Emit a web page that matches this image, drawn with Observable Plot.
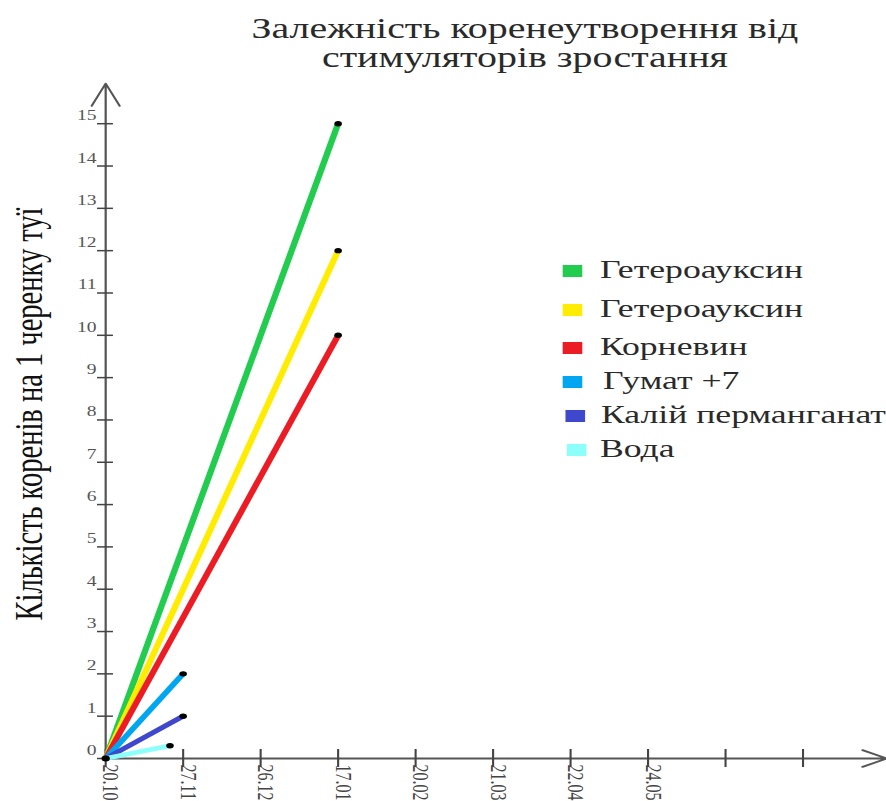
<!DOCTYPE html>
<html>
<head>
<meta charset="utf-8">
<script src="https://cdn.jsdelivr.net/npm/d3@7"></script>
<script src="https://cdn.jsdelivr.net/npm/@observablehq/plot@0.6"></script>
<style>
  html, body { margin: 0; padding: 0; background: #fff; overflow: hidden; }
  #wrap { position: relative; width: 633px; height: 801px; transform: scaleX(1.3997); transform-origin: 0 0; font-family: "Liberation Serif", "DejaVu Serif", serif; }
  #title { position: absolute; left: 375px; top: 14px; transform: translateX(-50%); text-align: center; font-size: 28.5px; line-height: 29px; color: #2a2a2a; white-space: nowrap; }
  #ylabel { position: absolute; left: 21.4px; top: 414px; transform: translate(-50%, -50%) rotate(-90deg); font-size: 28.5px; color: #111; white-space: nowrap; }
  #legend { position: absolute; left: 0; top: 0; }
  .item { position: absolute; left: 402px; height: 0; white-space: nowrap; }
  .sw { position: absolute; left: 0; top: -6px; width: 14px; height: 12px; }
  .lab { position: absolute; left: 26.6px; top: -16px; font-size: 25.5px; line-height: 30px; color: #2a2a2a; }
  #chart { position: absolute; left: 0; top: 0; }
</style>
</head>
<body>
<div id="wrap">
  <div id="chart"></div>
  <div id="title">Залежність коренеутворення від<br>стимуляторів зростання</div>
  <div id="ylabel">Кількість коренів на 1 черенку туї</div>
  <div id="legend"></div>
</div>
<script>
// ---- data ----
const xLabels = ["20.10", "27.11", "26.12", "17.01", "20.02", "21.03", "22.04", "24.05", "", ""];
const yTicks = [0, 1, 2, 3, 4, 5, 6, 7, 8, 9, 10, 11, 12, 13, 14, 15];
const seriesNames = ["Гетероауксин", "Гетероауксин", "Корневин", "Гумат +7", "Калій перманганат", "Вода"];
const seriesColors = ["#22cc4f", "#ffec00", "#ec1c24", "#00a6f0", "#3f48cc", "#8cfffb"];
const startX = [0, 0, 0, 0, 0, 0];
const startY = [0, 0, 0, 0, 0, 0];
const endX = [3, 3, 3, 1, 1, 0.83];
const endY = [15, 12, 10, 2, 1, 0.3];
const legendY = [271, 310, 348, 382, 416, 450];
const legendDx = [0, 0, 0, 0, 1.5, 3];
const labelDx = [0, 0, 0, 2.2, 0.8, 0];

// ---- build tables ----
const pts = [];
seriesNames.forEach((n, i) => {
  pts.push({ s: i, x: startX[i], y: startY[i] });
  pts.push({ s: i, x: endX[i], y: endY[i] });
});
const ends = seriesNames.map((n, i) => ({ s: i, x: endX[i], y: endY[i] }));
const xTickData = xLabels.map((l, i) => ({ i, l }));

const xMax = 10.08, yMax = 15.95;

const chart = Plot.plot({
  width: 633,
  height: 801,
  marginLeft: 75,
  marginRight: 0,
  marginTop: 83,
  marginBottom: 43,
  x: { domain: [0, xMax], axis: null },
  y: { domain: [0, yMax], axis: null },
  marks: [
    Plot.arrow([0], { x1: 0, y1: 0, x2: xMax, y2: 0, stroke: "#555", strokeWidth: 1.8, headLength: 16, headAngle: 52, bend: 0 }),
    Plot.arrow([0], { x1: 0, y1: 0, x2: 0, y2: yMax, stroke: "#555", strokeWidth: 1.6, headLength: 23, headAngle: 48, bend: 0 }),
    Plot.ruleX(xTickData, { x: "i", y1: 0, y2: 0, insetTop: -9, insetBottom: -9, stroke: "#444", strokeWidth: 1.5 }),
    Plot.ruleY(yTicks, { y: d => d, x1: 0, x2: 0, insetLeft: -5.7, insetRight: -5.7, stroke: "#444", strokeWidth: 1.5 }),
    Plot.text(yTicks, { x: 0, y: d => d, text: d => String(d), textAnchor: "end", dx: -6.5, dy: -8, fontSize: 14, fill: "#555", fontFamily: "Liberation Serif" }),
    Plot.text(xTickData, { x: "i", y: 0, text: "l", rotate: 90, textAnchor: "start", lineAnchor: "middle", dx: 3.5, dy: 6, fontSize: 16, fill: "#444", fontFamily: "Liberation Serif" }),
    Plot.line(pts, { x: "x", y: "y", z: "s", stroke: d => seriesColors[d.s], strokeWidth: 4.6, strokeLinecap: "butt" }),
    Plot.dot(ends, { x: "x", y: "y", r: 2.7, fill: "#000" }),
    Plot.dot([0], { x: 0, y: 0, r: 3, fill: "#000" })
  ]
});
document.getElementById("chart").appendChild(chart);

// ---- legend ----
const leg = document.getElementById("legend");
seriesNames.forEach((n, i) => {
  const it = document.createElement("div");
  it.className = "item";
  it.style.top = legendY[i] + "px";
  it.style.left = (402 + legendDx[i]) + "px";
  const sw = document.createElement("div");
  sw.className = "sw";
  sw.style.background = seriesColors[i];
  const lab = document.createElement("div");
  lab.className = "lab";
  lab.style.left = (26.6 - legendDx[i] + labelDx[i]) + "px";
  lab.textContent = n;
  it.appendChild(sw);
  it.appendChild(lab);
  leg.appendChild(it);
});
</script>
</body>
</html>
